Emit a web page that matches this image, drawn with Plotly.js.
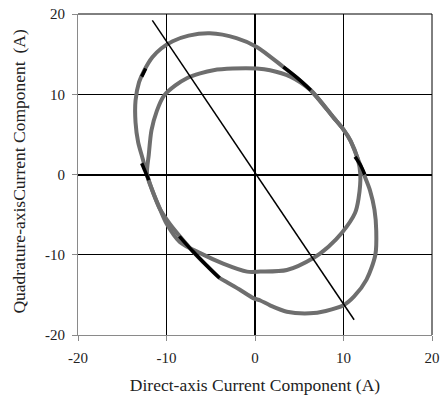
<!DOCTYPE html>
<html>
<head>
<meta charset="utf-8">
<script src="https://cdn.plot.ly/plotly-3.0.1.min.js"></script>
<style>html,body{margin:0;padding:0;background:#fff;}#chart{width:442px;height:401px;}</style>
</head>
<body>
<div id="chart"></div>
<script>
// Outer current locus (d, q) in A
const outerD = [-5.1,-2.1,0.2,3.2,4.8,6.3,8.8,10.0,10.8,11.6,12.2,13.0,13.5,13.7,13.6,12.6,11.2,10.0,8.0,6.2,3.6,1.7,0.6,-0.2,-1.8,-3.2,-4.0,-5.5,-7.0,-8.5,-9.6,-10.7,-11.6,-12.2,-12.7,-13.2,-13.5,-13.5,-13.1,-12.5,-11.6,-10.6,-9.3,-7.5,-5.1];
const outerQ = [17.6,17.0,15.9,13.4,12.0,10.5,7.2,5.6,4.2,2.0,0.3,-2.0,-4.4,-7.0,-10.0,-13.1,-15.2,-16.3,-17.0,-17.3,-17.1,-16.3,-15.7,-15.4,-14.3,-13.4,-12.9,-11.3,-9.6,-7.7,-6.2,-4.4,-2.0,0.0,2.0,4.0,6.5,9.2,11.5,13.0,14.6,15.7,16.6,17.3,17.6];
// Inner current locus
const innerD = [-2.5,0.2,1.7,4.0,6.3,8.8,10.0,10.8,11.6,11.9,11.7,11.3,9.8,8.3,6.6,3.6,0.6,-0.9,-3.6,-6.2,-8.5,-10.0,-10.7,-11.6,-12.2,-12.0,-11.7,-11.1,-10.3,-9.0,-7.7,-6.2,-4.7,-2.5];
const innerQ = [13.2,13.2,13.0,12.2,10.5,7.2,5.6,4.2,2.0,0.0,-3.0,-4.8,-7.3,-9.0,-10.4,-11.9,-12.1,-12.1,-11.1,-9.8,-8.4,-6.1,-4.4,-2.0,0.0,2.5,5.5,7.9,9.8,11.1,12.0,12.6,13.0,13.2];
// Highlighted (black) segments
const seg1D = [-12.8,-12.35], seg1Q = [12.2,13.2];
const seg2D = [3.2,4.8,6.3], seg2Q = [13.4,12.0,10.5];
const seg3D = [11.3,12.0,12.4], seg3Q = [2.2,1.0,0.0];
const seg4D = [-12.8,-12.4,-12.0], seg4Q = [1.4,0.3,-0.7];
const seg5D = [-8.55,-7.0,-5.5,-4.0], seg5Q = [-7.7,-9.6,-11.3,-12.9];
// Torque-angle line
const lineD = [-11.6,11.2], lineQ = [19.2,-18.1];
const tickVals = [-20,-10,0,10,20];
const xTitle = 'Direct-axis Current Component (A)';
const yTitleMain = 'Quadrature-axisCurrent Component';
const yTitleUnit = '(A)';

const gray = '#6e6e6e';
const traces = [
  {x: outerD, y: outerQ, mode:'lines', line:{color:gray,width:4,shape:'spline',smoothing:0.8}},
  {x: innerD, y: innerQ, mode:'lines', line:{color:gray,width:4,shape:'spline',smoothing:0.8}},
  {x: seg1D, y: seg1Q, mode:'lines', line:{color:'#000',width:3.5}},
  {x: seg2D, y: seg2Q, mode:'lines', line:{color:'#000',width:3.5,shape:'spline'}},
  {x: seg3D, y: seg3Q, mode:'lines', line:{color:'#000',width:3.5,shape:'spline'}},
  {x: seg4D, y: seg4Q, mode:'lines', line:{color:'#000',width:3.5}},
  {x: seg5D, y: seg5Q, mode:'lines', line:{color:'#000',width:3.5,shape:'spline'}},
  {x: lineD, y: lineQ, mode:'lines', line:{color:'#000',width:1.5}}
];
const font = 'Liberation Serif';
const axisCommon = {
  range:[-20,20], tickvals: tickVals, ticktext: tickVals.map(String),
  showgrid:true, gridcolor:'#000', gridwidth:1,
  zeroline:true, zerolinecolor:'#000', zerolinewidth:2,
  showline:true, linecolor:'#8a8a8a', linewidth:1,
  ticks:'outside', ticklen:5, tickcolor:'#8a8a8a', ticklabelstandoff:4,
  tickfont:{family:font, size:15, color:'#222'}, fixedrange:true
};
const layout = {
  width:442, height:401,
  margin:{l:78, r:10, t:14, b:66},
  paper_bgcolor:'#fff', plot_bgcolor:'#fff',
  showlegend:false,
  xaxis: Object.assign({}, axisCommon, {
    title:{text:xTitle, font:{family:font,size:17.5,color:'#222'}, standoff:13}
  }),
  yaxis: Object.assign({}, axisCommon),
  annotations:[
    {text:yTitleMain, xref:'paper', yref:'paper', x:-0.166, y:0.46, xanchor:'center', yanchor:'middle',
     textangle:-90, showarrow:false, font:{family:font,size:17.5,color:'#222'}},
    {text:yTitleUnit, xref:'paper', yref:'paper', x:-0.166, y:0.915, xanchor:'center', yanchor:'middle',
     textangle:-90, showarrow:false, font:{family:font,size:17.5,color:'#222'}}
  ],
  shapes:[
    {type:'line', xref:'paper', yref:'paper', x0:0, x1:1, y0:1, y1:1, line:{color:'#000',width:1}},
    {type:'line', xref:'paper', yref:'paper', x0:1, x1:1, y0:0, y1:1, line:{color:'#000',width:1}}
  ]
};
Plotly.newPlot('chart', traces, layout, {staticPlot:true});
</script>
</body>
</html>
